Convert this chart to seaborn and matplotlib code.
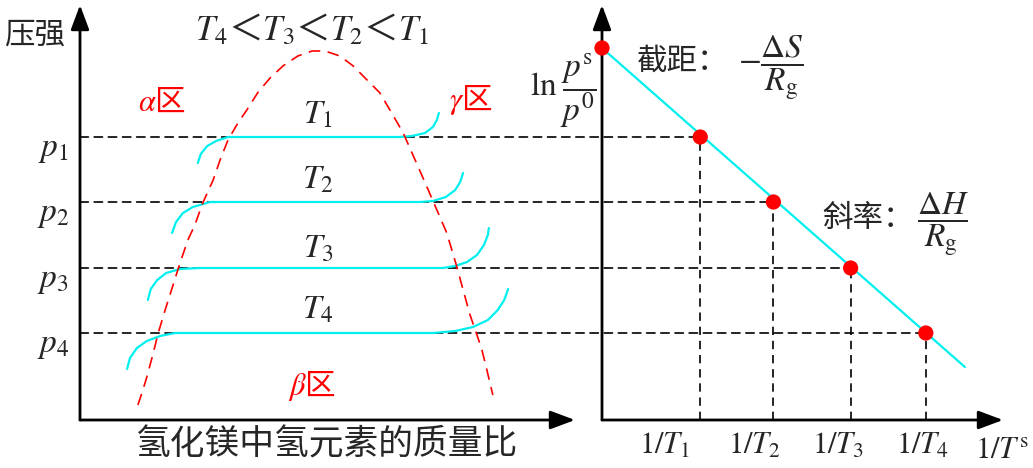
import matplotlib
matplotlib.use('Agg')
import matplotlib.pyplot as plt
from matplotlib.patches import ConnectionPatch
from matplotlib.transforms import ScaledTranslation
import seaborn as sns

# ---- left panel: 压强 vs 氢化镁中氢元素的质量比 (schematic units) ----
p_levels = [2.83, 2.18, 1.52, 0.87]
p_labels = ['$p_1$', '$p_2$', '$p_3$', '$p_4$']
t_labels = ['$T_1$', '$T_2$', '$T_3$', '$T_4$']

# two-phase boundary (red dashed dome)
dome_x = [1.17, 1.27, 1.35, 1.47, 1.58, 1.72, 1.88, 2.02, 2.18, 2.32, 2.48, 2.69, 2.83,
          2.99, 3.19, 3.37, 3.60, 3.84, 4.10, 4.40, 4.69, 4.95, 5.25, 5.52, 5.80, 6.06,
          6.32, 6.53, 6.77, 7.01, 7.21, 7.41, 7.62, 7.74, 7.88, 8.02, 8.12, 8.22, 8.34]
dome_y = [0.15, 0.30, 0.43, 0.65, 0.87, 1.10, 1.35, 1.57, 1.80, 1.95, 2.17, 2.40, 2.60,
          2.80, 2.97, 3.10, 3.28, 3.42, 3.54, 3.64, 3.69, 3.69, 3.64, 3.54, 3.40, 3.27,
          3.05, 2.87, 2.60, 2.33, 2.10, 1.87, 1.52, 1.30, 1.05, 0.85, 0.70, 0.50, 0.25]

# isotherms
iso1_x = [2.38, 2.44, 2.57, 2.75, 2.99, 6.46, 6.71, 6.97, 7.13, 7.21, 7.25]
iso1_y = [2.57, 2.66, 2.74, 2.79, 2.83, 2.83, 2.84, 2.87, 2.93, 3.00, 3.07]
iso2_x = [1.86, 1.94, 2.08, 2.28, 2.63, 6.87, 7.13, 7.39, 7.58, 7.68, 7.74]
iso2_y = [1.87, 1.98, 2.07, 2.13, 2.18, 2.18, 2.19, 2.23, 2.30, 2.38, 2.47]
iso3_x = [1.37, 1.43, 1.56, 1.74, 2.02, 2.42, 7.33, 7.58, 7.82, 8.02, 8.16, 8.24, 8.26]
iso3_y = [1.20, 1.31, 1.40, 1.47, 1.51, 1.52, 1.52, 1.54, 1.58, 1.65, 1.75, 1.85, 1.92]
iso4_x = [0.95, 1.01, 1.15, 1.35, 1.62, 1.92, 2.22, 7.13, 7.58, 7.94, 8.24, 8.44, 8.57, 8.65]
iso4_y = [0.51, 0.62, 0.72, 0.79, 0.84, 0.87, 0.87, 0.87, 0.89, 0.93, 1.00, 1.10, 1.20, 1.31]

# ---- right panel: ln(p^s/p^0) vs 1/T^s ----
inv_t = [0.0, 0.98, 1.71, 2.48, 3.23]
ln_p = [3.72, 2.83, 2.18, 1.52, 0.87]
fit_x = [0.0, 3.62]
fit_y = [3.72, 0.53]
inv_t_labels = ['$1/T_1$', '$1/T_2$', '$1/T_3$', '$1/T_4$']

CJK = ['Noto Sans CJK SC', 'DejaVu Sans']
RED = '#ff0000'
CYAN = '#00f0f0'

sns.set_theme(style='white')
plt.rcParams['font.family'] = CJK
plt.rcParams['mathtext.fontset'] = 'stix'

fig = plt.figure(figsize=(10.33, 4.68), dpi=100)
W, H = 1033, 468
ax_l = fig.add_axes([80 / W, 48 / H, 495 / W, 415 / H])
ax_r = fig.add_axes([602 / W, 48 / H, 401 / W, 415 / H])

for ax, xmax in ((ax_l, 10.0), (ax_r, 4.0)):
    ax.set_xlim(0, xmax)
    ax.set_ylim(0, 4.15)
    ax.set_facecolor('none')
    for s in ax.spines.values():
        s.set_visible(False)
    ax.set_xticks([])
    ax.set_yticks([])
    arrow = dict(arrowstyle='-|>,head_length=0.75,head_width=0.28', mutation_scale=20,
                 lw=2, color='black', shrinkA=0, shrinkB=0)
    ax.annotate('', xy=(1, 0), xycoords='axes fraction', xytext=(0, 0), arrowprops=arrow)
    ax.annotate('', xy=(0, 1), xycoords='axes fraction', xytext=(0, 0), arrowprops=arrow)

# left panel curves
for xs, ys in ((iso1_x, iso1_y), (iso2_x, iso2_y), (iso3_x, iso3_y), (iso4_x, iso4_y)):
    sns.lineplot(x=xs, y=ys, ax=ax_l, color=CYAN, lw=1.6, sort=False, estimator=None)
sns.lineplot(x=dome_x, y=dome_y, ax=ax_l, color=RED, lw=1.2, sort=False, estimator=None,
             linestyle=(0, (7, 4.5)))

ax_l.set_yticks(p_levels, p_labels, fontsize=24)
ax_l.tick_params(axis='y', length=0, pad=8)
for lab in ax_l.get_yticklabels():
    lab.set_transform(lab.get_transform() + ScaledTranslation(0, -6 / 100, fig.dpi_scale_trans))

for lab, y in zip(t_labels, [3.06, 2.41, 1.72, 1.11]):
    ax_l.text(4.81, y, lab, fontsize=24, ha='center', va='center')

ax_l.text(-0.91, 3.85, '压强', fontsize=22, ha='center', va='center')
ax_l.text(4.69, 3.90, '$T_4$＜$T_3$＜$T_2$＜$T_1$', fontsize=25, ha='center', va='center')
ax_l.text(1.66, 3.18, r'$\alpha$区', fontsize=22, color=RED, ha='center', va='center')
ax_l.text(7.90, 3.20, r'$\gamma$区', fontsize=22, color=RED, ha='center', va='center')
ax_l.text(4.69, 0.34, r'$\beta$区', fontsize=22, color=RED, ha='center', va='center')
ax_l.text(4.99, -0.25, '氢化镁中氢元素的质量比', fontsize=25, ha='center', va='center')

# right panel
sns.lineplot(x=fit_x, y=fit_y, ax=ax_r, color=CYAN, lw=1.6, sort=False, estimator=None)
dash = (0, (5, 3.5))
for x, y in zip(inv_t[1:], ln_p[1:]):
    ax_r.plot([x, x], [0, y], color='black', lw=1.2, linestyle=dash)
for p, x, y in zip(p_levels, inv_t[1:], ln_p[1:]):
    con = ConnectionPatch(xyA=(0, p), coordsA=ax_l.transData, xyB=(x, y), coordsB=ax_r.transData,
                          color='black', lw=1.2, linestyle=dash, zorder=-1)
    fig.add_artist(con)
sns.scatterplot(x=inv_t, y=ln_p, ax=ax_r, color=RED, s=120, edgecolor='none', zorder=5,
                clip_on=False)

for lab, x in zip(inv_t_labels, [0.62, 1.52, 2.35, 3.20]):
    ax_r.text(x, -0.25, lab, fontsize=22, ha='center', va='center')
ax_r.text(3.72, -0.30, '$1/T^{\\mathrm{s}}$', fontsize=22, ha='left', va='center')

ax_r.text(-0.05, 3.29, r'$\mathrm{ln}\;\dfrac{p^{\mathrm{s}}}{p^{0}}$', fontsize=24,
          ha='right', va='center')
ax_r.text(0.35, 3.59, '截距：', fontsize=22, ha='left', va='center')
ax_r.text(1.36, 3.52, r'$-\dfrac{\Delta S}{R_{\mathrm{g}}}$', fontsize=24, ha='left', va='center')
ax_r.text(2.20, 2.02, '斜率：', fontsize=22, ha='left', va='center')
ax_r.text(3.14, 1.95, r'$\dfrac{\Delta H}{R_{\mathrm{g}}}$', fontsize=24, ha='left', va='center')

fig.savefig('out.png', dpi=100)
